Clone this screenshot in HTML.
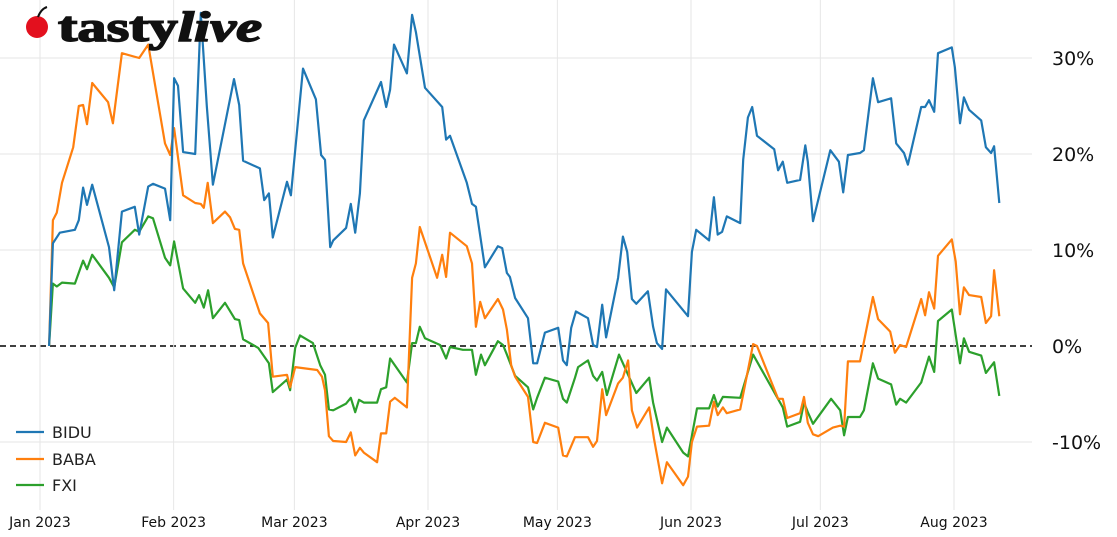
<!DOCTYPE html>
<html><head><meta charset="utf-8">
<style>
html,body{margin:0;padding:0;background:#fff;}
svg{display:block;font-family:"DejaVu Sans","Liberation Sans",sans-serif;}
</style></head>
<body>
<svg id="chart" width="1117" height="537" viewBox="0 0 1117 537" xmlns="http://www.w3.org/2000/svg">
  <g id="grid"></g>
  <g id="series"></g>
  <g id="yaxis"></g>
  <g id="xaxis"></g>
  <g>
    <line x1="16" y1="432" x2="44" y2="432" stroke="#1f77b4" stroke-width="2.2"/>
    <text x="52" y="438" font-size="16" fill="#222">BIDU</text>
    <line x1="16" y1="459" x2="44" y2="459" stroke="#ff7f0e" stroke-width="2.2"/>
    <text x="52" y="465" font-size="16" fill="#222">BABA</text>
    <line x1="16" y1="485" x2="44" y2="485" stroke="#2ca02c" stroke-width="2.2"/>
    <text x="52" y="491" font-size="16" fill="#222">FXI</text>
  </g>
  <g>
    <circle cx="37" cy="27" r="11" fill="#e3101e"/>
    <path d="M38 17 Q41 9 47 7" stroke="#111" stroke-width="2" fill="none"/>
    <text x="58" y="41" font-family="Liberation Serif, serif" font-weight="bold" font-size="42" fill="#111" stroke="#111" stroke-width="1.5" textLength="204" lengthAdjust="spacingAndGlyphs">tasty<tspan font-style="italic">live</tspan></text>
  </g>
</svg>
<script>
const monthLabels = ["Jan 2023","Feb 2023","Mar 2023","Apr 2023","May 2023","Jun 2023","Jul 2023","Aug 2023"];
const monthDays = [0,31,59,90,120,151,181,212];
const yTicks = [30,20,10,0,-10];
const biduData = [[2.1,0],[3,10.7],[4.6,11.8],[8.1,12.1],[9,13.1],[10,16.5],[10.9,14.7],[12.1,16.8],[16,10.3],[17.2,5.8],[19,14],[22,14.5],[23,11.6],[25.1,16.6],[26.2,16.9],[29,16.4],[30.2,13.1],[31.1,27.9],[32,27.1],[33.2,20.2],[36,20],[37.3,34.7],[38.7,25],[40.1,16.8],[45,27.8],[46.2,25.1],[47.1,19.3],[51,18.5],[52,15.2],[53.1,15.9],[54,11.3],[57.3,17.1],[58.2,15.7],[61,28.9],[64,25.7],[65.2,19.9],[66.1,19.4],[67.3,10.3],[68,11],[71,12.3],[72.1,14.8],[73.1,11.8],[74.2,15.9],[75.1,23.5],[79.1,27.5],[80.3,24.9],[81.2,26.7],[82.1,31.4],[85.1,28.4],[86.3,34.5],[87.2,32.7],[89.3,26.9],[93.3,24.9],[94.2,21.5],[95.1,21.9],[99,17],[100.2,14.8],[101.1,14.5],[103.2,8.2],[106.2,10.4],[107.2,10.2],[108.3,7.6],[109,7.2],[110.2,5],[113.2,2.9],[114.4,-1.8],[115.3,-1.8],[117.1,1.4],[120.2,1.9],[121.3,-1.5],[122.2,-2],[123.2,1.9],[124.3,3.6],[127.1,2.9],[128.3,0.1],[129.2,-0.1],[130.4,4.3],[131.3,0.9],[134.1,7.1],[135.2,11.4],[136.2,9.8],[137.3,4.9],[138.3,4.4],[141,5.7],[142.2,2],[143.1,0.3],[144.3,-0.3],[145.2,5.9],[150.3,3.1],[151.2,9.8],[152.2,12.1],[155.2,11],[156.3,15.5],[157.2,11.6],[158.2,11.9],[159.3,13.5],[162.4,12.8],[163.1,19.4],[164.2,23.8],[165.2,24.9],[166.3,21.9],[170.3,20.5],[171.2,18.3],[172.3,19.2],[173.3,17],[176.3,17.3],[177.5,20.9],[178.1,19.2],[179.3,13],[183.3,20.4],[185.3,19.2],[186.3,16],[187.4,19.9],[190.2,20.1],[191.1,20.4],[193.2,27.9],[194.4,25.4],[197.4,25.8],[198.6,21.1],[200.4,20.1],[201.3,18.9],[204.4,24.9],[205.3,24.9],[206.2,25.6],[207.4,24.4],[208.3,30.5],[211.5,31.1],[212.2,29],[213.4,23.2],[214.3,25.9],[215.5,24.6],[218.3,23.5],[219.4,20.7],[220.6,20.1],[221.3,20.8],[222.5,14.9]];
const babaData = [[2.1,0],[3,13.1],[3.9,13.9],[5.1,17],[7.7,20.7],[9,25],[10,25.1],[10.9,23.1],[12.1,27.4],[15.8,25.4],[16.9,23.2],[19,30.5],[23,30],[25.1,31.4],[29,21.1],[30.2,19.9],[31.1,22.7],[33.2,15.7],[36,14.9],[37.3,14.8],[38,14.4],[38.9,17],[40.1,12.8],[42.9,14],[44.1,13.4],[45.2,12.2],[46.2,12.1],[47.1,8.6],[51,3.4],[52.9,2.4],[54,-3.2],[57.3,-3],[58,-4.3],[59.2,-2.2],[64.3,-2.5],[65.4,-3.2],[66.1,-4.6],[67,-9.4],[68,-9.9],[71,-10],[72.1,-9],[73.1,-11.4],[74.2,-10.6],[75.1,-11.1],[78.2,-12.1],[79.1,-9.1],[80.3,-9.1],[81.2,-5.8],[82.3,-5.4],[85.1,-6.4],[86.3,7.1],[87.2,8.6],[88.1,12.4],[92.1,7.1],[93.3,9.5],[94.2,7.2],[95.1,11.8],[99,10.4],[100.2,8.6],[101.1,2],[102.1,4.6],[103.2,2.9],[106.2,4.9],[107.4,3.8],[108.3,1.7],[109.3,-2],[110.2,-3.2],[113.2,-5.3],[114.4,-10],[115.3,-10.1],[117.1,-8],[120.2,-8.5],[121.3,-11.4],[122.2,-11.5],[124.1,-9.5],[127.1,-9.5],[128.3,-10.5],[129.2,-9.9],[130.4,-4.5],[131.3,-7.2],[134.1,-3.9],[135.2,-3.3],[136.4,-1.5],[137.3,-6.7],[138.5,-8.5],[141.3,-6.4],[142.4,-9.6],[144.3,-14.3],[145.4,-12.1],[149.2,-14.5],[150.3,-13.6],[151.2,-10],[152.4,-8.4],[155.2,-8.3],[156.3,-5.8],[157.2,-7.2],[158.4,-6.4],[159.3,-7],[162.4,-6.6],[165.4,0.2],[166.3,0],[171.2,-5.5],[172.3,-5.5],[173.3,-7.5],[176.3,-7],[177.2,-5.3],[178.1,-8],[179.3,-9.2],[180.5,-9.4],[183.9,-8.5],[185.6,-8.3],[186.5,-8.4],[187.4,-1.6],[190.2,-1.6],[193.2,5.1],[194.4,2.8],[197.2,1.5],[198.3,-0.7],[199.5,0.1],[200.9,-0.1],[204.4,4.9],[205.3,3.2],[206.2,5.6],[207.4,3.9],[208.3,9.4],[211.5,11.1],[212.4,8.8],[213.4,3.3],[214.3,6.1],[215.5,5.3],[218.3,5.1],[219.4,2.4],[220.6,3.1],[221.3,7.9],[222.5,3.1]];
const fxiData = [[2.1,0],[3,6.5],[3.9,6.2],[5.1,6.6],[8.1,6.5],[10,8.9],[10.9,8],[12.1,9.5],[16,7.1],[17.2,6.1],[19,10.8],[22,12.1],[23,11.9],[25.1,13.5],[26.2,13.3],[29,9.2],[30.2,8.4],[31.1,10.9],[33.2,6],[36,4.5],[36.9,5.3],[38,4],[39,5.8],[40.1,2.9],[42.9,4.5],[45.2,2.8],[46.2,2.7],[47.1,0.7],[50.6,-0.2],[53.1,-1.8],[54,-4.8],[57.3,-3.5],[58,-4.6],[59.2,-0.2],[60.3,1.1],[63.3,0.3],[65,-2],[66.1,-3],[67,-6.6],[68,-6.7],[71,-6],[72.1,-5.4],[73.1,-6.9],[74,-5.6],[75.1,-5.9],[78.2,-5.9],[79.1,-4.5],[80.3,-4.3],[81.2,-1.3],[85.1,-3.8],[86.3,0.3],[87.2,0.3],[88.1,2],[89.3,0.8],[92.8,0.1],[94.2,-1.3],[95.1,-0.1],[98.1,-0.4],[100.2,-0.4],[101.1,-3],[102.3,-0.9],[103.2,-2],[106.2,0.5],[107.4,0.1],[108.3,-0.9],[110.2,-3.1],[113.2,-4.3],[114.4,-6.6],[115.3,-5.4],[117.1,-3.3],[120.2,-3.7],[121.3,-5.5],[122.2,-5.9],[124.1,-3.3],[124.8,-2.2],[127.1,-1.5],[128.3,-3.1],[129.2,-3.6],[130.4,-2.7],[131.5,-5.1],[134.3,-0.9],[138.3,-4.9],[141.3,-3.3],[142.2,-5.9],[144.3,-10],[145.4,-8.5],[149.2,-11.1],[150.3,-11.5],[152.4,-6.5],[155.2,-6.5],[156.3,-5.1],[157.2,-6.3],[158.4,-5.3],[162.4,-5.4],[165.4,-0.9],[172.3,-6.4],[173.3,-8.4],[176.3,-7.9],[177.2,-5.9],[178.1,-6.9],[179.3,-8.1],[183.5,-5.5],[185.6,-6.7],[186.5,-9.3],[187.4,-7.4],[190.2,-7.4],[191.1,-6.7],[193.2,-1.8],[194.4,-3.4],[197.4,-4],[198.6,-6.1],[199.5,-5.5],[200.9,-5.9],[204.4,-3.8],[206.2,-1.1],[207.4,-2.7],[208.3,2.6],[211.5,3.8],[213.4,-1.8],[214.3,0.8],[215.5,-0.6],[218.3,-1],[219.4,-2.8],[221.3,-1.7],[222.5,-5.2]];

const NS = "http://www.w3.org/2000/svg";
function xScale(d){ return 40 + d * (914/212); }
function yScale(v){ return 346 - v * 9.6; }
function mk(tag, attrs, parent){ const el=document.createElementNS(NS,tag); for(const k in attrs) el.setAttribute(k,attrs[k]); parent.appendChild(el); return el; }

const grid=document.getElementById('grid');
const yaxis=document.getElementById('yaxis');
const xaxis=document.getElementById('xaxis');
const series=document.getElementById('series');

yTicks.forEach(t=>{
  const y=yScale(t);
  const ln=mk('line',{x1:0,x2:1032,y1:y,y2:y,stroke:t===0?'#000':'#e6e6e6','stroke-width':t===0?1.5:1,'stroke-dasharray':t===0?'6,4':'none'},grid);
  
  
  const tx=mk('text',{x:1052,y:y+7,'font-size':19,fill:'#111'},yaxis);
  
  
  tx.textContent=t+'%';
});
monthDays.forEach((d,i)=>{
  const x=xScale(d);
  const ln=mk('line',{x1:x,x2:x,y1:0,y2:510,stroke:'#e6e6e6','stroke-width':1},grid);
  
  
  const tx=mk('text',{x:x,y:527,'font-size':14,fill:'#111','text-anchor':'middle'},xaxis);
  
  
  tx.textContent=monthLabels[i];
});
function drawLine(data,color,name){
  const d=data.map((p,i)=>(i?'L':'M')+xScale(p[0]).toFixed(1)+' '+yScale(p[1]).toFixed(1)).join(' ');
  const path=mk('path',{d:d,fill:'none',stroke:color,'stroke-width':2.2,'stroke-linejoin':'round'},series);
  
  
}
drawLine(fxiData,'#2ca02c','fxi-line');
drawLine(babaData,'#ff7f0e','baba-line');
drawLine(biduData,'#1f77b4','bidu-line');
</script>
</body></html>
